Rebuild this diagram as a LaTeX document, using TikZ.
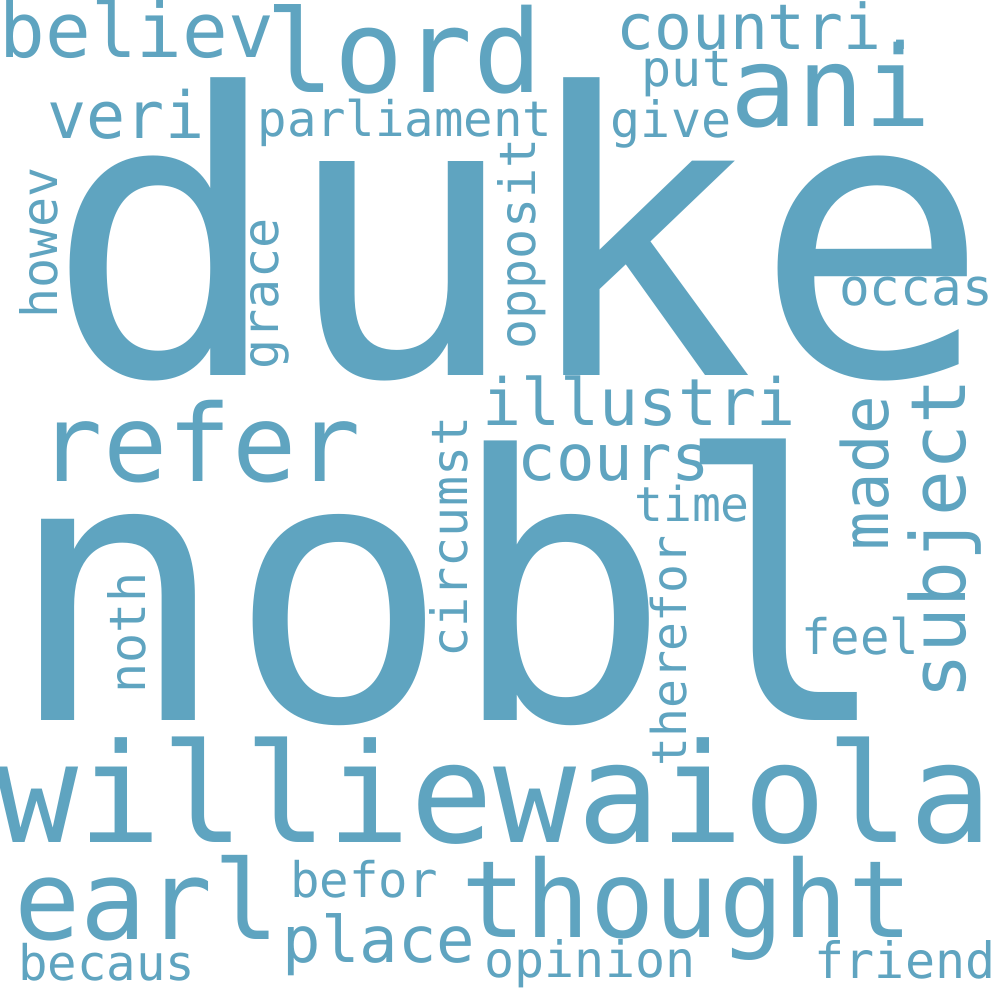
\documentclass[tikz,border=0pt]{standalone}
\usepackage{fontspec}
\setmonofont{DejaVu Sans Mono}
\definecolor{wc}{RGB}{95,164,192}
\tikzset{
  wd/.style={font={\ttfamily\fontsize{#1pt}{#1pt}\selectfont}, text=wc, inner sep=0pt, outer sep=0pt, anchor=base},
  vw/.style={wd=#1, rotate=90}
}
\begin{document}
\begin{tikzpicture}[x=1pt,y=-1pt]
\fill[white] (0,0) rectangle (1000,1000);
\useasboundingbox (0,0) rectangle (1000,1000);
% horizontal words
\node[wd=392] (duke) at (519,375) {duke};
\node[wd=368] (nobl) at (450,720) {nobl};
\node[wd=138] (willie) at (494,842) {williewaiola};
\node[wd=115] (lord) at (404,93) {lord};
\node[wd=76] (believ) at (137,58) {believ};
\node[wd=65] (veri) at (126,139) {veri};
\node[wd=49] (parl) at (405,137) {parliament};
\node[wd=63] (countri) at (768,50) {countri.};
\node[wd=50] (put) at (687,87) {put};
\node[wd=50] (give) at (671,138) {give};
\node[wd=111] (ani) at (831,127) {ani};
\node[wd=51] (occas) at (916,305) {occas};
\node[wd=65] (illustri) at (639,425) {illustri};
\node[wd=64] (cours) at (614,480) {cours};
\node[wd=48] (time) at (692,521) {time};
\node[wd=49] (feel) at (860,654) {feel};
\node[wd=107] (thought) at (687,937) {thought};
\node[wd=50] (friend) at (905,978) {friend};
\node[wd=50] (opinion) at (590,977) {opinion};
\node[wd=64] (place) at (379,962) {place};
\node[wd=49] (befor) at (364,897) {befor};
\node[wd=110] (earl) at (147,939) {earl};
\node[wd=49] (becaus) at (107,980) {becaus};
\node[wd=107] (refer) at (200,481) {refer};
% vertical words
\node[vw=64] (made) at (888,473) {made};
\node[vw=76] (subject) at (965,539) {subject};
\node[vw=48] (therefor) at (686,651) {therefor};
\node[vw=50] (noth) at (145,633) {noth};
\node[vw=50] (circumst) at (467,537) {circumst};
\node[vw=50] (opposit) at (535,244) {opposit};
\node[vw=50] (grace) at (278,294) {grace};
\node[vw=50] (howev) at (57,243) {howev};
\end{tikzpicture}
\end{document}
